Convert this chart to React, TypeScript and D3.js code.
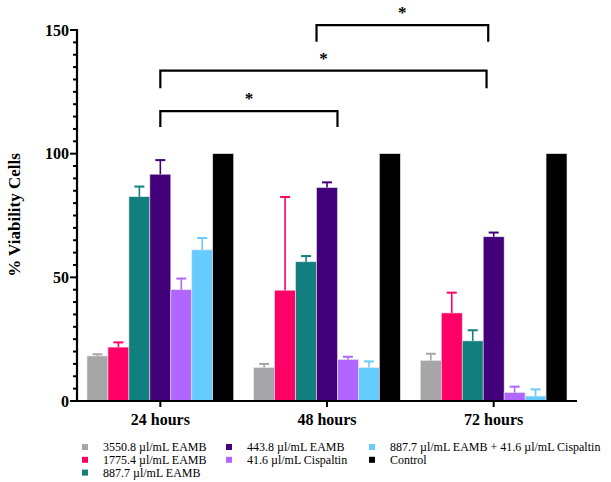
import * as d3 from "d3";

// time points on the x axis
const groups = ["24 hours", "48 hours", "72 hours"];

const seriesNames = [
  "3550.8 µl/mL EAMB",
  "1775.4 µl/mL EAMB",
  "887.7 µl/mL EAMB",
  "443.8 µl/mL EAMB",
  "41.6 µl/mL Cispaltin",
  "887.7 µl/mL EAMB + 41.6 µl/mL Cispaltin",
  "Control",
];
const seriesColors = ["#a6a6a9", "#ff0066", "#127f7f", "#42007a", "#b066ff", "#66ccff", "#000000"];

// mean viability per series, one value per time point
const means = [
  [18.2, 13.5, 16.4],
  [21.8, 44.8, 35.6],
  [82.6, 56.3, 24.3],
  [91.7, 86.3, 66.4],
  [45.0, 16.8, 3.4],
  [61.1, 13.5, 2.0],
  [100, 100, 100],
];
// upper error (SD)
const errors = [
  [0.7, 1.5, 2.7],
  [1.9, 37.7, 8.2],
  [4.1, 2.3, 4.3],
  [5.7, 2.1, 1.7],
  [4.5, 1.1, 2.4],
  [4.8, 2.5, 2.7],
  [0, 0, 0],
];

const yTicks = [0, 50, 100, 150];

// significance brackets: [group, series, fraction across bar] for both ends, level in % units
const brackets = [
  { from: [1, 3, 0], to: [2, 3, 0.24], level: 152, drop: 6.8 },
  { from: [0, 3, 0.5], to: [2, 3, 0.16], level: 133.6, drop: 7.2 },
  { from: [0, 3, 0.5], to: [1, 3, 1], level: 117.2, drop: 6.4 },
];

// legend columns (indices into seriesNames)
const legendCols = [[0, 1, 2], [3, 4], [5, 6]];

const W = 611;
const H = 482;
const left = 77;
const right = 577;
const font = "'Liberation Serif', 'Times New Roman', serif";

export default function App() {
  const y = d3.scaleLinear().domain([0, 150]).range([401, 30]);
  const x0 = d3.scaleBand().domain(groups).range([left, right]).padding(0);
  const x1 = d3
    .scaleBand<number>()
    .domain(d3.range(seriesNames.length))
    .range([10, x0.bandwidth() - 10])
    .padding(0);

  const bx = (g: number, s: number, f: number) =>
    (x0(groups[g]) as number) + (x1(s) as number) + x1.bandwidth() * f;

  const minorTicks = d3.range(0, 151, 5).filter((t) => t % 50 !== 0);

  return (
    <div style={{ position: "absolute", left: 0, top: 0 }}>
      <svg width={W} height={H} style={{ display: "block", background: "#fff" }} fontFamily={font}>
        {/* bars */}
        {groups.map((g, gi) => (
          <g key={g} transform={`translate(${x0(g)},0)`}>
            {seriesNames.map((s, si) => {
              const bx0 = x1(si) as number;
              const cx = bx0 + x1.bandwidth() / 2;
              const v = means[si][gi];
              const e = errors[si][gi];
              return (
                <g key={s}>
                  <rect
                    x={bx0}
                    y={y(v)}
                    width={x1.bandwidth()}
                    height={y(0) - y(v)}
                    fill={seriesColors[si]}
                    stroke="#e6e6e6"
                    strokeWidth={0.6}
                  />
                  {e > 0 && (
                    <g stroke={seriesColors[si]} strokeWidth={1.6}>
                      <line x1={cx} x2={cx} y1={y(v)} y2={y(v + e)} />
                      <line x1={cx - 5} x2={cx + 5} y1={y(v + e)} y2={y(v + e)} strokeWidth={2} />
                    </g>
                  )}
                </g>
              );
            })}
          </g>
        ))}

        {/* y axis */}
        <g stroke="#000">
          <line x1={left} x2={left} y1={y(150) - 1} y2={y(0)} strokeWidth={2.2} />
          {yTicks.map((t) => (
            <line key={t} x1={left - 7} x2={left} y1={y(t)} y2={y(t)} strokeWidth={2} />
          ))}
          {minorTicks.map((t) => (
            <line key={t} x1={left - 4} x2={left} y1={y(t)} y2={y(t)} strokeWidth={2} />
          ))}
        </g>
        {yTicks.map((t) => (
          <text
            key={t}
            x={left - 8}
            y={y(t)}
            dy="0.35em"
            textAnchor="end"
            fontSize={16}
            fontWeight="bold"
          >
            {t}
          </text>
        ))}
        <text
          transform={`translate(20,${215}) rotate(-90)`}
          textAnchor="middle"
          fontSize={17}
          fontWeight="bold"
        >
          % Viability Cells
        </text>

        {/* x axis */}
        <g stroke="#000">
          <line x1={left} x2={right} y1={y(0)} y2={y(0)} strokeWidth={2.2} />
          {groups.map((g) => {
            const cx = (x0(g) as number) + x0.bandwidth() / 2;
            return <line key={g} x1={cx} x2={cx} y1={y(0)} y2={y(0) + 6} strokeWidth={2} />;
          })}
        </g>
        {groups.map((g) => (
          <text
            key={g}
            x={(x0(g) as number) + x0.bandwidth() / 2}
            y={425}
            textAnchor="middle"
            fontSize={16}
            fontWeight="bold"
          >
            {g}
          </text>
        ))}

        {/* significance brackets */}
        {brackets.map((b, i) => {
          const xa = bx(b.from[0], b.from[1], b.from[2]);
          const xb = bx(b.to[0], b.to[1], b.to[2]);
          const yl = y(b.level);
          const yd = y(b.level - b.drop);
          return (
            <g key={i}>
              <path
                d={`M${xa},${yd}V${yl}H${xb}V${yd}`}
                fill="none"
                stroke="#000"
                strokeWidth={2.2}
              />
              <text x={(xa + xb) / 2} y={yl - 7} textAnchor="middle" fontSize={17} fontWeight="bold">
                *
              </text>
            </g>
          );
        })}

        {/* legend */}
        {legendCols.map((col, ci) =>
          col.map((si, ri) => {
            const lx = [82, 226, 369][ci];
            const ly = 447 + ri * 12.8;
            return (
              <g key={si}>
                <rect x={lx} y={ly - 3} width={6} height={6} fill={seriesColors[si]} />
                <text x={lx + 21} y={ly} dy="0.35em" fontSize={12}>
                  {seriesNames[si]}
                </text>
              </g>
            );
          })
        )}
      </svg>
    </div>
  );
}
